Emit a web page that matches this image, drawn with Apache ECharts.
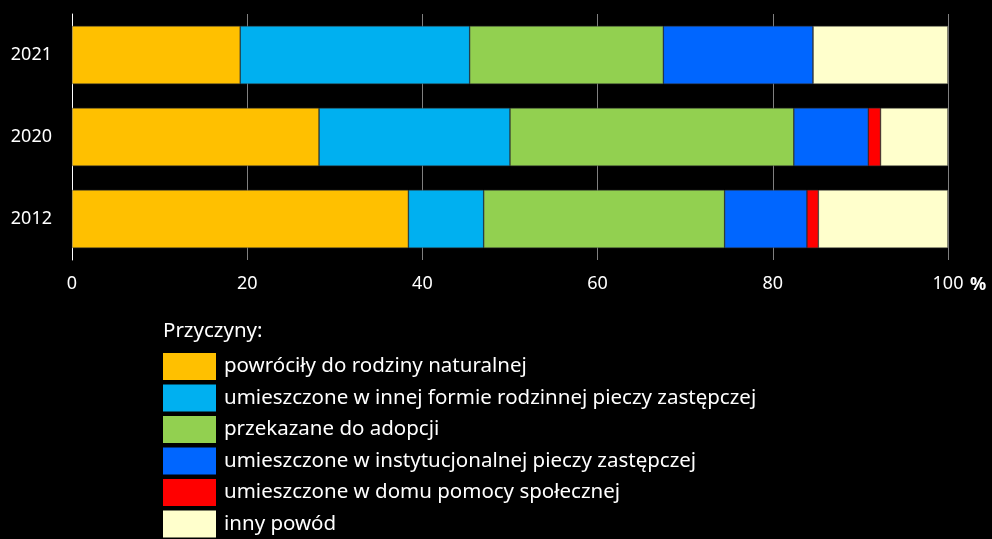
<!DOCTYPE html>
<html><head><meta charset="utf-8">
<script src="https://cdn.jsdelivr.net/npm/echarts@6/dist/echarts.min.js"></script>
<style>html,body{margin:0;padding:0;background:#000}#c{width:992px;height:539px}</style>
</head><body><div id="c"></div>
<script>
const categories = ['2012', '2020', '2021'];
const seriesNames = [
  'powróciły do rodziny naturalnej',
  'umieszczone w innej formie rodzinnej pieczy zastępczej',
  'przekazane do adopcji',
  'umieszczone w instytucjonalnej pieczy zastępczej',
  'umieszczone w domu pomocy społecznej',
  'inny powód'
];
const powrocily = [38.4, 28.2, 19.2];
const innaForma = [8.6, 21.8, 26.2];
const adopcja = [27.5, 32.4, 22.1];
const instytucja = [9.4, 8.5, 17.1];
const dps = [1.3, 1.4, 0];
const inny = [14.8, 7.7, 15.4];
const colors = ['#FFC000', '#00B0F0', '#92D050', '#0066FF', '#FF0000', '#FFFFCC'];
const xTicks = [0, 20, 40, 60, 80, 100];
const legendTitle = 'Przyczyny:';

const values = [powrocily, innaForma, adopcja, instytucja, dps, inny];
const font = '"Noto Sans", sans-serif';
const chart = echarts.init(document.getElementById('c'), null, {renderer: 'canvas'});
chart.setOption({
  backgroundColor: '#000',
  animation: false,
  textStyle: {fontFamily: font},
  title: {
    text: legendTitle, left: 163, top: 321, padding: 0,
    textStyle: {color: '#fff', fontSize: 20.5, fontWeight: 'normal', fontFamily: font}
  },
  legend: {
    orient: 'vertical', left: 163, top: 353, padding: 0, height: 190,
    itemWidth: 53, itemHeight: 27, itemGap: 4.5,
    icon: 'rect', data: seriesNames,
    itemStyle: {borderWidth: 0},
    textStyle: {color: '#fff', fontSize: 20.5, lineHeight: 27, fontFamily: font, padding: [0, 0, 0, 3]},
    selectedMode: false
  },
  grid: {left: 72, right: 44, top: 14, bottom: 279, containLabel: false},
  xAxis: {
    type: 'value', min: xTicks[0], max: xTicks[xTicks.length - 1], interval: 20,
    axisLine: {show: false}, axisTick: {show: false},
    splitLine: {show: true, lineStyle: {color: '#7f7f7f', width: 1}},
    axisLabel: {color: '#fff', fontSize: 18, margin: 15, fontFamily: font},
    name: '%', nameLocation: 'end', nameGap: 22,
    nameTextStyle: {color: '#fff', fontSize: 18, fontWeight: 'bold', verticalAlign: 'top', padding: [16, 0, 0, 0], fontFamily: font}
  },
  yAxis: {
    type: 'category', data: categories,
    axisLine: {show: true, lineStyle: {color: '#fff', width: 1}},
    axisTick: {show: false},
    axisLabel: {color: '#fff', fontSize: 18, margin: 20, fontFamily: font}
  },
  series: seriesNames.map((n, i) => ({
    name: n, type: 'bar', stack: 'total', data: values[i],
    barCategoryGap: '29%',
    itemStyle: {color: colors[i], borderColor: 'rgba(60,60,60,0.8)', borderWidth: 0.6}
  }))
});
</script></body></html>
